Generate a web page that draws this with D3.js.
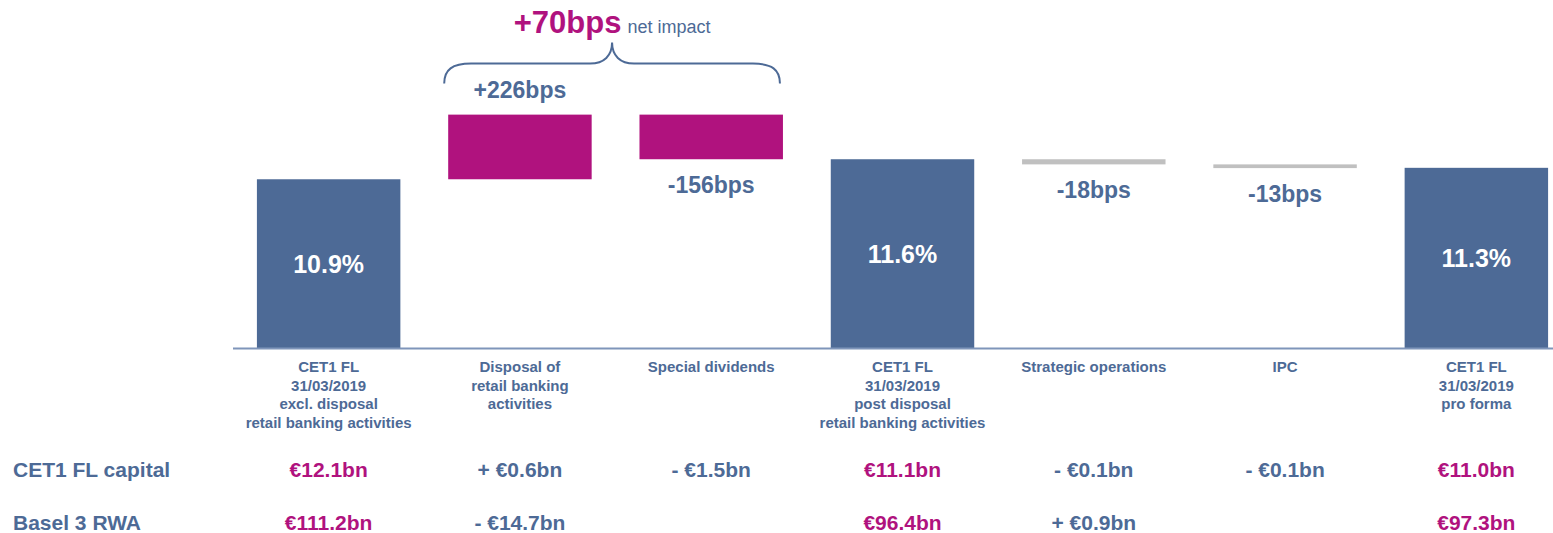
<!DOCTYPE html>
<html>
<head>
<meta charset="utf-8">
<script src="https://cdn.jsdelivr.net/npm/d3@7/dist/d3.min.js"></script>
<style>
  html, body { margin: 0; padding: 0; background: #fff; }
  svg { display: block; font-family: "Liberation Sans", Arial, sans-serif; }
</style>
</head>
<body>
<svg id="chart" width="1553" height="533"></svg>
<script>
// categories (multi-line x labels)
const categories = [
  ["CET1 FL", "31/03/2019", "excl. disposal", "retail banking activities"],
  ["Disposal of", "retail banking", "activities"],
  ["Special dividends"],
  ["CET1 FL", "31/03/2019", "post disposal", "retail banking activities"],
  ["Strategic operations"],
  ["IPC"],
  ["CET1 FL", "31/03/2019", "pro forma"]
];
// total = absolute CET1 ratio (%), others = change in % points
const kinds = ["total", "impact", "impact", "total", "minor", "minor", "total"];
const values = [10.9, 2.26, -1.56, 11.6, -0.18, -0.13, 11.3];
const barLabels = ["10.9%", "+226bps", "-156bps", "11.6%", "-18bps", "-13bps", "11.3%"];

const rowNames = ["CET1 FL capital", "Basel 3 RWA"];
const capitalRow = ["€12.1bn", "+ €0.6bn", "- €1.5bn", "€11.1bn", "- €0.1bn", "- €0.1bn", "€11.0bn"];
const rwaRow = ["€111.2bn", "- €14.7bn", "", "€96.4bn", "+ €0.9bn", "", "€97.3bn"];

const netImpact = "+70bps";
const netImpactText = "net impact";

const blue = "#4d6a96", magenta = "#b0127e", grey = "#c0c0c0";
const colorOf = { total: blue, impact: magenta, minor: grey };

const svg = d3.select("#chart");
const W = 1553;

const x = d3.scaleBand().domain(d3.range(categories.length))
  .range([233, 1572]).paddingInner(0.25).paddingOuter(0.125);
const y = d3.scaleLinear().domain([5, 12]).range([348, 147.8]);

// waterfall geometry
let level = 0;
const bars = values.map((v, i) => {
  let lo, hi;
  if (kinds[i] === "total") { lo = 5; hi = v; level = v; }
  else { const a = level, b = level + v; lo = Math.min(a, b); hi = Math.max(a, b); level = b; }
  return { i, lo, hi, v, kind: kinds[i] };
});

svg.selectAll("rect.bar").data(bars).join("rect")
  .attr("class", "bar")
  .attr("x", d => x(d.i))
  .attr("width", x.bandwidth())
  .attr("y", d => y(d.hi))
  .attr("height", d => y(d.lo) - y(d.hi))
  .attr("fill", d => colorOf[d.kind]);

// baseline
svg.append("line")
  .attr("x1", 233).attr("x2", W)
  .attr("y1", y(5) + 0.5).attr("y2", y(5) + 0.5)
  .attr("stroke", "#7f95ba").attr("stroke-width", 2);

// labels on / near bars
svg.selectAll("text.val").data(bars).join("text")
  .attr("class", "val")
  .attr("x", d => x(d.i) + x.bandwidth() / 2)
  .attr("y", d => {
    if (d.kind === "total") return (y(d.lo) + y(d.hi)) / 2 + 9;
    if (d.v > 0) return y(d.hi) - 17;
    return y(d.lo) + 34;
  })
  .attr("text-anchor", "middle")
  .attr("font-weight", "bold")
  .attr("font-size", d => d.kind === "total" ? 25 : 23)
  .attr("fill", d => d.kind === "total" ? "#fff" : blue)
  .text(d => barLabels[d.i]);

// category labels
const cat = svg.selectAll("text.cat").data(categories).join("text")
  .attr("class", "cat")
  .attr("text-anchor", "middle")
  .attr("font-weight", "bold")
  .attr("font-size", 15)
  .attr("fill", blue);
cat.selectAll("tspan").data((d, i) => d.map(t => ({ t, i }))).join("tspan")
  .attr("x", d => x(d.i) + x.bandwidth() / 2)
  .attr("y", (d, j) => y(5) + 24 + j * 18.7)
  .text(d => d.t);

// brace over the two impact bars
const bx0 = x(1) - 4, bx1 = x(2) + x.bandwidth() - 3, mid = (bx0 + bx1) / 2;
const topY = y(d3.max(bars, d => d.hi));
const yEnd = topY - 31, yH = topY - 51, yPk = topY - 72;
const brace = d3.path();
brace.moveTo(bx0, yEnd);
brace.bezierCurveTo(bx0, yH + 6, bx0 + 8, yH, bx0 + 27, yH);
brace.lineTo(mid - 22, yH);
brace.bezierCurveTo(mid - 8, yH, mid, yH - 8, mid, yPk);
brace.bezierCurveTo(mid, yH - 8, mid + 8, yH, mid + 22, yH);
brace.lineTo(bx1 - 27, yH);
brace.bezierCurveTo(bx1 - 8, yH, bx1, yH + 6, bx1, yEnd);
svg.append("path").attr("d", brace.toString())
  .attr("fill", "none").attr("stroke", blue).attr("stroke-width", 2);

const net = svg.append("text")
  .attr("x", mid).attr("y", 33)
  .attr("text-anchor", "middle");
net.append("tspan").attr("font-size", 31).attr("font-weight", "bold").attr("fill", magenta).text(netImpact);
net.append("tspan").attr("font-size", 18).attr("fill", blue).attr("dx", 6).text(netImpactText);

// bottom table
const rows = [capitalRow, rwaRow];
const rowY = [477, 530];
rowNames.forEach((name, r) => {
  svg.append("text")
    .attr("x", 13).attr("y", rowY[r])
    .attr("font-size", 21).attr("font-weight", "bold").attr("fill", blue)
    .text(name);
  svg.selectAll("text.row" + r).data(rows[r]).join("text")
    .attr("class", "row" + r)
    .attr("x", (d, i) => x(i) + x.bandwidth() / 2)
    .attr("y", rowY[r])
    .attr("text-anchor", "middle")
    .attr("font-size", 21).attr("font-weight", "bold")
    .attr("fill", (d, i) => kinds[i] === "total" ? magenta : blue)
    .text(d => d);
});
</script>
</body>
</html>
